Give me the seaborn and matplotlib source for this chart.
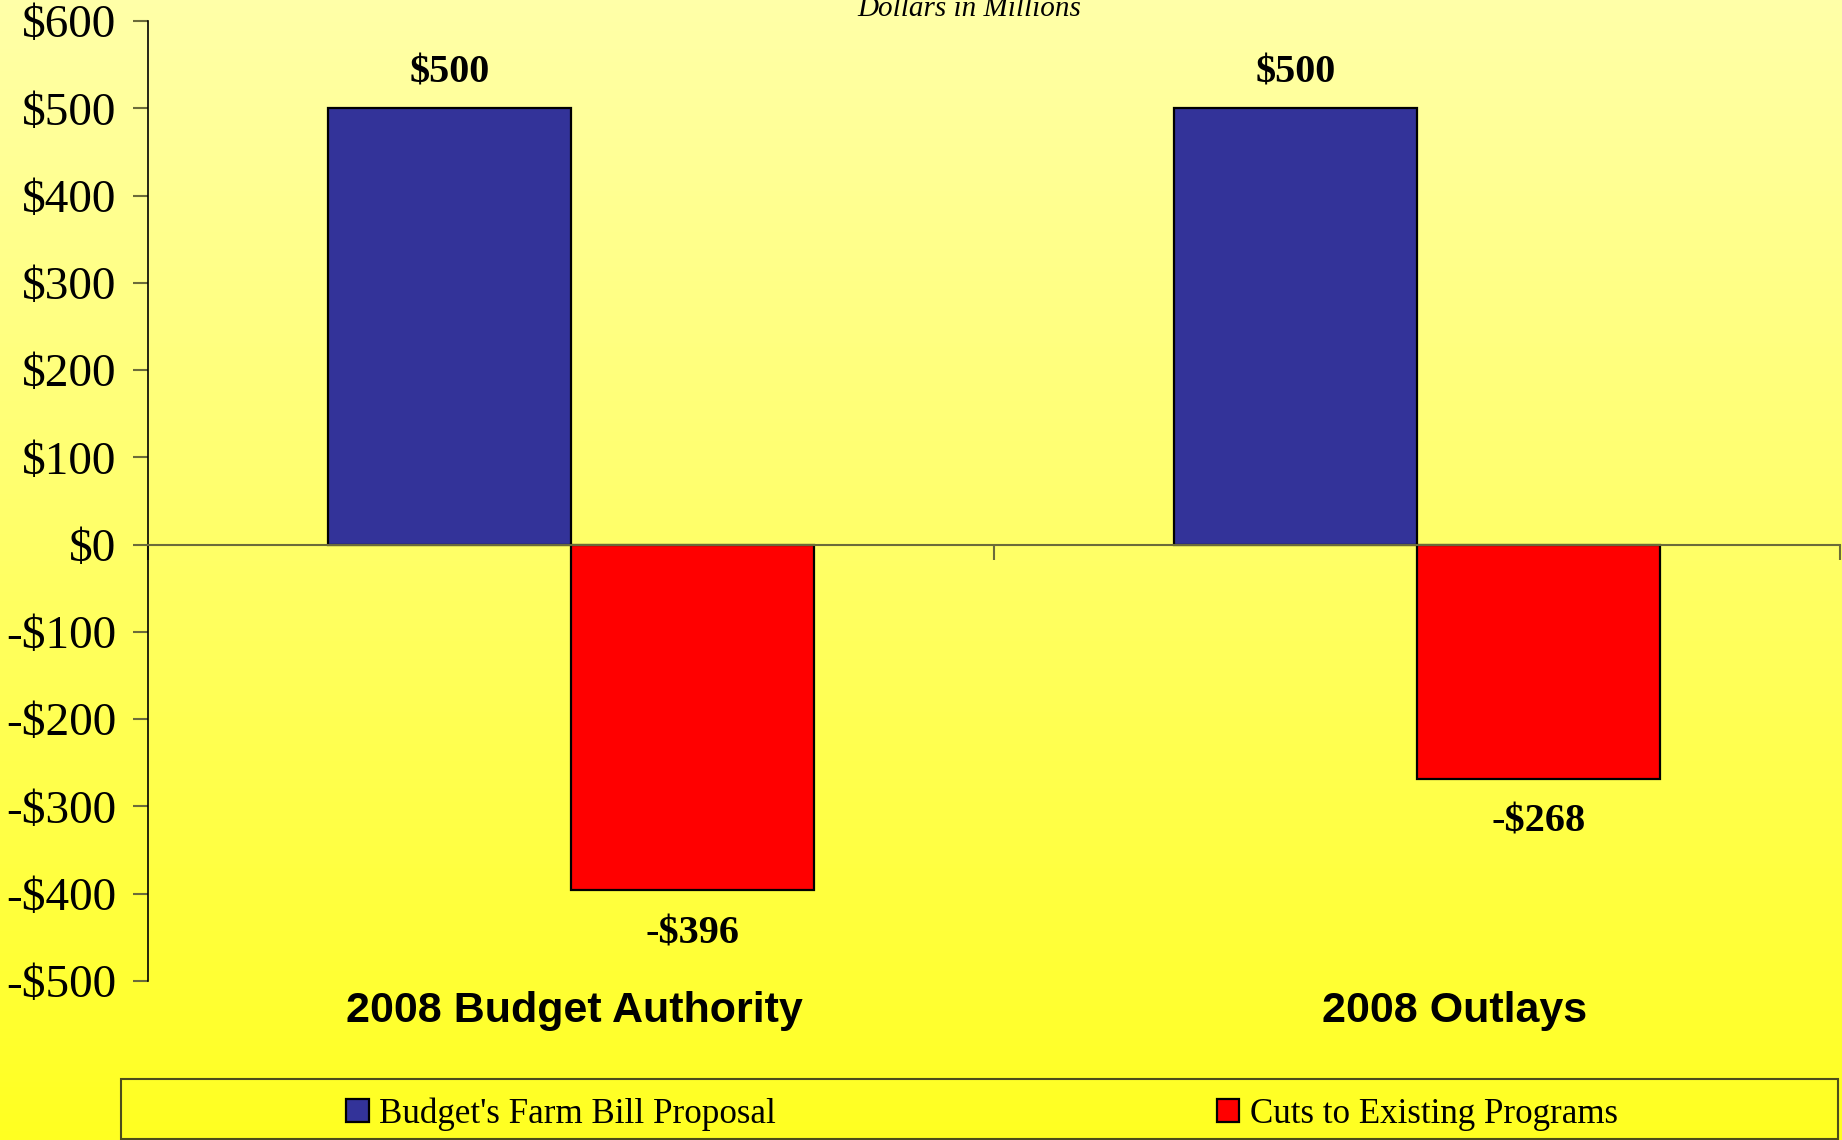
import numpy as np
import pandas as pd
import matplotlib
matplotlib.use("Agg")
import matplotlib.pyplot as plt
import seaborn as sns
from matplotlib.patches import Patch, Rectangle
import matplotlib.transforms as mtransforms

# ---- data ----
categories = ["2008 Budget Authority", "2008 Outlays"]
series_names = ["Budget's Farm Bill Proposal", "Cuts to Existing Programs"]
proposal_values = [500, 500]
cuts_values = [-396, -268]
ytick_values = [-500, -400, -300, -200, -100, 0, 100, 200, 300, 400, 500, 600]
ytick_labels = ["-$500", "-$400", "-$300", "-$200", "-$100", "$0",
                "$100", "$200", "$300", "$400", "$500", "$600"]
subtitle = "Dollars in Millions"
colors = ["#333399", "#FF0000"]

df = pd.DataFrame({
    "category": categories * 2,
    "series": [series_names[0]] * 2 + [series_names[1]] * 2,
    "value": proposal_values + cuts_values,
})

sns.set_theme(style="white")
plt.rcParams["font.family"] = ["Liberation Serif", "DejaVu Serif"]
plt.rcParams["text.color"] = "black"
plt.rcParams["axes.labelcolor"] = "black"
plt.rcParams["xtick.color"] = "black"
plt.rcParams["ytick.color"] = "black"

W, H, DPI = 1842, 1140, 100
fig = plt.figure(figsize=(W / DPI, H / DPI), dpi=DPI)

# gradient background
bg = fig.add_axes([0, 0, 1, 1], zorder=-10)
grad = np.linspace(0, 1, 256).reshape(-1, 1)
top = np.array([1.0, 1.0, 0.66])
bot = np.array([1.0, 1.0, 0.13])
img = top[None, None, :] * (1 - grad[:, :, None]) + bot[None, None, :] * grad[:, :, None]
bg.imshow(img, aspect="auto", extent=[0, 1, 0, 1], origin="upper")
bg.axis("off")

ax = fig.add_axes([148 / W, 1 - 981 / H, (1840 - 148) / W, (981 - 21) / H])
ax.set_facecolor("none")

sns.barplot(data=df, x="category", y="value", hue="series", order=categories,
            hue_order=series_names, palette=colors, width=0.574, gap=0,
            edgecolor="black", linewidth=1.6, saturation=1, legend=False, ax=ax)

ax.set_xlim(-0.5, 1.5)
ax.set_ylim(-500, 600)
ax.set_xlabel("")
ax.set_ylabel("")

# spines
for s in ["top", "right"]:
    ax.spines[s].set_visible(False)
ax.spines["left"].set_color("black")
ax.spines["left"].set_linewidth(1.2)
ax.spines["bottom"].set_position(("data", 0))
ax.spines["bottom"].set_color("#6b6b3a")
ax.spines["bottom"].set_linewidth(1.5)

ax.set_yticks(ytick_values)
ax.set_yticklabels(ytick_labels, fontsize=34, color="black")
ax.tick_params(axis="y", direction="out", length=11, width=1.5, color="#6b6b3a",
               pad=12, left=True, labelcolor="black")
ax.set_xticks([-0.5, 0.5, 1.5])
ax.set_xticklabels([])
ax.tick_params(axis="x", direction="out", length=11, width=1.5, color="#6b6b3a",
               bottom=True)

# category labels
trans = mtransforms.blended_transform_factory(ax.transData, ax.transAxes)
label_x = [0.004, 1.044]
for xi, c in zip(label_x, categories):
    ax.text(xi, -0.031, c, transform=trans, ha="center", va="center",
            fontsize=31, fontweight="bold", color="black",
            family=["Liberation Sans", "DejaVu Sans"])

# value labels from bars
for cont in ax.containers:
    for p in cont:
        h = p.get_height()
        xc = p.get_x() + p.get_width() / 2
        lab = f"${h:.0f}" if h >= 0 else f"-${-h:.0f}"
        off = 25.5 if h >= 0 else -31.5
        ax.annotate(lab, (xc, h), xytext=(0, off), textcoords="offset points",
                    ha="center", va="center", fontsize=29, fontweight="bold",
                    color="black")

# subtitle
fig.text(969 / W, 1 - 8.5 / H, subtitle, ha="center", va="center", fontsize=21,
         style="italic", color="black")

# legend box
box = Rectangle((121 / W, 1 - 1139 / H), (1838 - 121) / W, (1139 - 1079) / H,
                transform=fig.transFigure, facecolor="none", edgecolor="#4d4d1a",
                linewidth=1.5, zorder=1)
fig.add_artist(box)

handles = [Patch(facecolor=colors[0], edgecolor="black", linewidth=1.6),
           Patch(facecolor=colors[1], edgecolor="black", linewidth=1.6)]
leg = fig.legend(handles, series_names, ncol=2, loc="center",
                 bbox_to_anchor=(982 / W, 1 - 1114 / H),
                 fontsize=25.2, frameon=False,
                 handlelength=0.64, handleheight=0.64, handletextpad=0.3,
                 borderaxespad=0, borderpad=0, columnspacing=12.6)
for t in leg.get_texts():
    t.set_color("black")

fig.savefig("out.png", dpi=DPI)
